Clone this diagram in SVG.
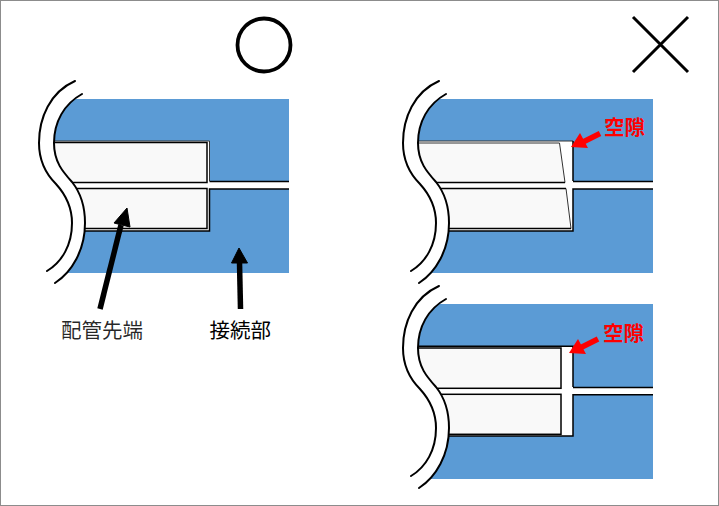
<svg xmlns="http://www.w3.org/2000/svg" width="719" height="506" viewBox="0 0 719 506">
<style>
.blue{fill:#5b9bd5}
.gap{fill:#fff}
.ln{fill:none;stroke:#000;stroke-width:1.5}
.thin{fill:none;stroke:#333;stroke-width:1}
.pipe{fill:#f9f9f9;stroke:#000;stroke-width:1.5}
.c{fill:none;stroke:#000;stroke-width:2;stroke-linecap:round}
.t{font-family:"Noto Sans CJK JP","Noto Sans CJK SC",sans-serif;font-size:20.500px;fill:#000}
.r{font-family:"Noto Sans CJK JP","Noto Sans CJK SC",sans-serif;font-size:20.500px;font-weight:700;fill:#f00}
</style>
<defs>
<g id="wave">
<path d="M82,94C64,104 54,122 54,143C54,162 63,172 72,182C80,192 85,207 85,223C85,250 72,272 55,283L30,283L30,94Z" fill="#fff"/>
<path class="c" d="M75,81C50,92 39,118 39,143C39,165 50,178 56,184C66,195 72,208 72,223C72,245 62,262 47,271"/>
<path class="c" d="M82,94C64,104 54,122 54,143C54,162 63,172 72,182C80,192 85,207 85,223C85,250 72,272 55,283"/>
</g>
</defs>
<rect x="0.5" y="0.5" width="718" height="505" fill="#fff" stroke="#8c8c8c"/>

<g id="mark-ok"><circle cx="264" cy="45" r="26.5" fill="none" stroke="#000" stroke-width="3.8"/></g>
<g id="mark-ng"><path d="M633,17L688,72M688,17L633,72" fill="none" stroke="#000" stroke-width="3"/></g>

<g id="panel-good">
<rect class="blue" x="45" y="99" width="244" height="174"/>
<path class="gap" d="M50,141H209.500V181.500H289V189H209.500V231H50Z"/>
<path class="thin" d="M50,141H209.500V181"/>
<path class="ln" d="M209.500,181.500H289M289,189H209.500V231H50"/>
<rect class="pipe" x="45" y="142.500" width="162" height="40"/>
<rect class="pipe" x="45" y="188.500" width="162" height="40"/>
<use href="#wave"/>
</g>

<g id="panel-tapered" transform="translate(364 0)">
<rect class="blue" x="45" y="99" width="244" height="174"/>
<path class="gap" d="M50,141H209V181.500H289V189H209V231H50Z"/>
<path class="thin" d="M50,141H209"/>
<path class="ln" d="M209,141V181M209,181.500H289M289,189H209V231H50"/>
<path d="M45,143H195.500L201,182.500H45Z" fill="#f9f9f9"/>
<path d="M45,188.500H202L207,228.500H45Z" fill="#f9f9f9"/>
<path class="thin" d="M45,143H195.500L201,182.500M202,188.500L207,228.500"/>
<path class="ln" d="M45,182.500H201M45,188.500H202M45,228.500H207"/>
<use href="#wave"/>
</g>

<g id="panel-short" transform="translate(364 205)">
<rect class="blue" x="45" y="99" width="244" height="175"/>
<path class="gap" d="M50,141.300H209V182.500H289V189.700H209V231H50Z"/>
<path class="ln" d="M50,141.300H209V182M209,182.500H289M289,189.700H209V231H50"/>
<rect class="pipe" x="45" y="143" width="152" height="40.300"/>
<rect class="pipe" x="45" y="189.300" width="152" height="40"/>
<use href="#wave"/>
</g>

<g id="connectors">
<path d="M100,309L121,225" fill="none" stroke="#000" stroke-width="5.500"/>
<path d="M127,208L130,227L114,223Z" fill="#000" stroke="#000" stroke-width="1"/>
<path d="M240.500,309L239.500,262" fill="none" stroke="#000" stroke-width="5.500"/>
<path d="M239,248L247.500,263L231.500,263Z" fill="#000" stroke="#000" stroke-width="1"/>
<path d="M600,133.500L583,142" fill="none" stroke="#f00" stroke-width="5.500"/>
<path d="M571,147L580,133L588,148Z" fill="#f00"/>
<path d="M598,339L581,347.500" fill="none" stroke="#f00" stroke-width="5.500"/>
<path d="M569,353L578,339L586,354Z" fill="#f00"/>
</g>

<g id="labels">
<text class="t" x="61" y="337.500" fill-opacity="0.85">配管先端</text>
<text class="t" x="209.500" y="337.500">接続部</text>
<text class="r" x="604" y="134.500">空隙</text>
<text class="r" x="603" y="340.500">空隙</text>
</g>
</svg>
